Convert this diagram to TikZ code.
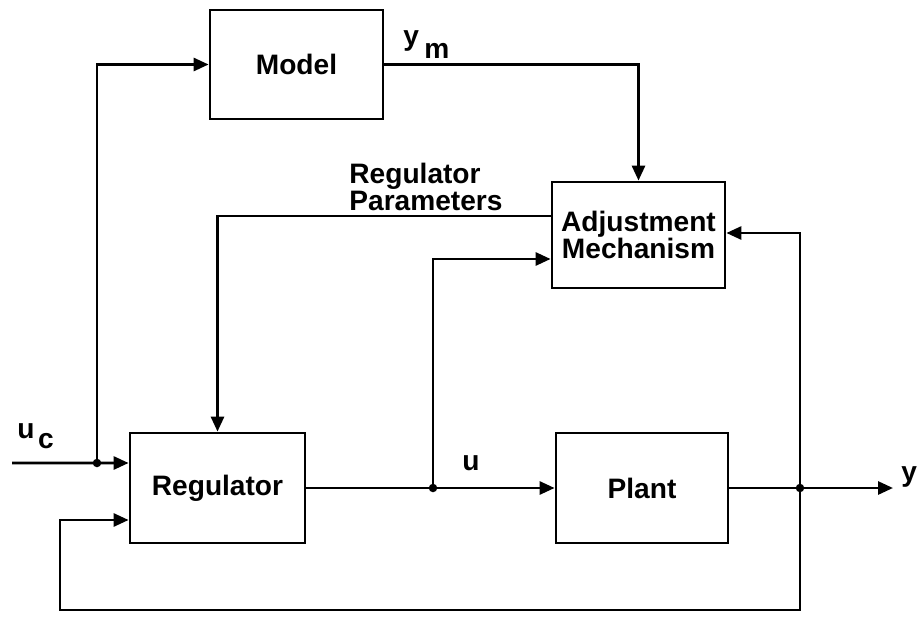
\documentclass[tikz,border=0pt]{standalone}
\usepackage{fontspec}
\setmainfont{Liberation Sans}
\usetikzlibrary{arrows.meta}
\begin{document}
\begin{tikzpicture}[x=0.02cm,y=-0.02cm, line width=1.6pt,
  blk/.style={draw, minimum width=3.46cm, minimum height=2.18cm, inner sep=0pt, align=center, font=\fontsize{16}{15}\selectfont\bfseries},
  arr/.style={-{Triangle[length=0.3cm,width=0.26cm]}},
  lbl/.style={font=\fontsize{16}{15}\selectfont\bfseries, inner sep=0pt},
  dot/.style={circle, fill, inner sep=0pt, minimum size=0.17cm}]
\useasboundingbox (0,0) rectangle (920,619);
\node[blk] (model) at (296.5,64.5) {Model};
\node[blk, minimum height=2.12cm] (adj) at (638.5,235) {Adjustment\\Mechanism};
\node[blk, minimum width=3.5cm, minimum height=2.2cm] (reg) at (217.5,488) {Regulator};
\node[blk, minimum width=3.44cm, minimum height=2.2cm] (plant) at (642,488) {Plant};
\coordinate (j1) at (433,488);
\coordinate (j2) at (800,488);
\coordinate (j3) at (97,463);
\coordinate (uin) at (12,463);
\coordinate (yout) at (893,488);
\coordinate (fbl) at (60,610);
% connectors
\draw (reg.east) -- (j1);
\draw[arr] (j1) -- (plant.west);
\draw[arr] (j1) |- ([yshift=-0.48cm]adj.west);
\draw (plant.east) -- (j2);
\draw[arr] (j2) -- (yout);
\draw[arr] (j2) |- ([yshift=0.04cm]adj.east);
\draw[arr] (j2) |- (fbl) |- ([yshift=-0.64cm]reg.west);
\draw[arr] (uin) -- ([yshift=0.5cm]reg.west);
\draw[arr] (j3) |- (model.west);
\draw[arr] (model.east) -| (adj.north);
\draw[arr] ([yshift=0.38cm]adj.west) -| (reg.north);
% junction dots
\node[dot] (d1) at (j1) {};
\node[dot] (d2) at (j2) {};
\node[dot] (d3) at (j3) {};
% labels
\node[lbl, align=left, anchor=north west] (rp) at (348,162) {Regulator\\Parameters};
\node[lbl, anchor=base west] (ym) at (402,45) {y\hspace{3pt}\raisebox{-7.4pt}{m}};
\node[lbl, anchor=base west] (uc) at (16,438) {u\hspace{2pt}\raisebox{-5.7pt}{c}};
\node[lbl, anchor=base west] (ul) at (461,470) {u};
\node[lbl, anchor=base west] (yl) at (900,481) {y};
\end{tikzpicture}
\end{document}
